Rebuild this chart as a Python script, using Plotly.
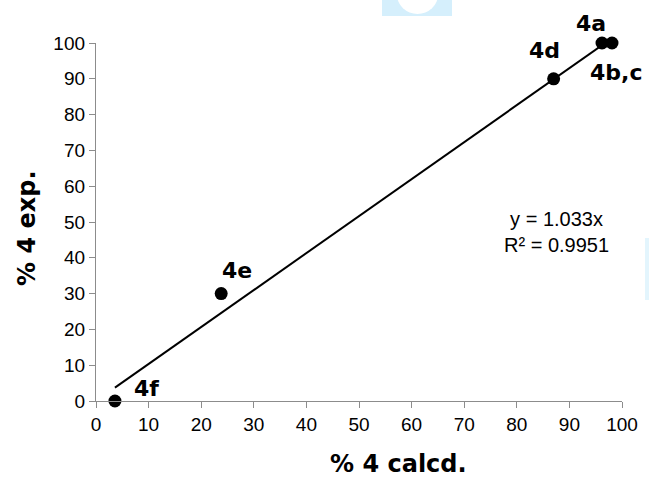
import plotly.graph_objects as go

# Data
calcd = [96.2, 98.1, 87.0, 23.8, 3.6]
exp_ = [100, 100, 90, 30, 0]
labels = ["4a", "4b,c", "4d", "4e", "4f"]
label_dx = [-11, 4, -9, 16, 32]
label_dy = [20, -29, 28, 23, 13]
slope = 1.033
r2 = 0.9951
ticks = list(range(0, 101, 10))
x_title = "% 4 calcd."
y_title = "% 4 exp."

W, H = 649, 479
L, R, T, B = 96, 27, 43, 78

def px(xp, yp):
    return (xp - L) / (W - L - R), (H - B - yp) / (H - T - B)

fig = go.Figure()

xmin, xmax = min(calcd), max(calcd)
fig.add_trace(go.Scatter(
    x=[xmin, xmax], y=[slope * xmin, slope * xmax],
    mode="lines", line=dict(color="black", width=2),
    hoverinfo="skip", showlegend=False))

fig.add_trace(go.Scatter(
    x=calcd, y=exp_, mode="markers",
    marker=dict(color="black", size=13),
    cliponaxis=False, showlegend=False))

bold = dict(family="DejaVu Sans", size=22, color="black", weight="bold")
title_font = dict(family="DejaVu Sans", size=24, color="black", weight="bold")
for xv, yv, t, dx, dy in zip(calcd, exp_, labels, label_dx, label_dy):
    fig.add_annotation(x=xv, y=yv, text=t, showarrow=False,
                       xshift=dx, yshift=dy, font=bold)

fx, fy = px(556, 232)
fig.add_annotation(
    x=fx, y=fy, xref="paper", yref="paper", xanchor="center", yanchor="middle",
    text=f"y = {slope}x<br>R² = {r2}", showarrow=False,
    font=dict(family="Liberation Sans", size=20, color="black"), align="center")

# axis titles
fx, fy = px(398, 464)
fig.add_annotation(x=fx, y=fy, xref="paper", yref="paper", text=x_title,
                   xanchor="center", yanchor="middle",
                   showarrow=False, font=title_font)
fx, fy = px(27, 228)
fig.add_annotation(x=fx, y=fy, xref="paper", yref="paper", text=y_title,
                   xanchor="center", yanchor="middle",
                   showarrow=False, font=title_font, textangle=-90)

# faint watermark fragments
shapes = []
x0, y0 = px(382, 16); x1, y1 = px(452, 0)
shapes.append(dict(type="rect", xref="paper", yref="paper", x0=x0, y0=y0, x1=x1, y1=y1,
                   fillcolor="#d5effc", line=dict(width=0), layer="below"))
x0, y0 = px(397, 14); x1, y1 = px(438, -25)
shapes.append(dict(type="circle", xref="paper", yref="paper", x0=x0, y0=y0, x1=x1, y1=y1,
                   fillcolor="white", line=dict(width=0), layer="below"))
x0, y0 = px(645, 300); x1, y1 = px(649, 238)
shapes.append(dict(type="rect", xref="paper", yref="paper", x0=x0, y0=y0, x1=x1, y1=y1,
                   fillcolor="#e3f5fd", line=dict(width=0), layer="below"))

axis_common = dict(
    range=[0, 100], tickvals=ticks, ticks="outside", ticklen=6,
    tickcolor="#8c8c8c", showline=True, linecolor="#8c8c8c", linewidth=1.3,
    showgrid=False, zeroline=False, automargin=False,
    tickfont=dict(family="Liberation Sans", size=19, color="black"))

fig.update_layout(
    width=W, height=H, margin=dict(l=L, r=R, t=T, b=B),
    paper_bgcolor="white", plot_bgcolor="white",
    shapes=shapes,
    xaxis=dict(**axis_common),
    yaxis=dict(**axis_common),
)

fig.write_html("out.html", config={"displayModeBar": False},
               post_script="document.body.style.margin='0';")
